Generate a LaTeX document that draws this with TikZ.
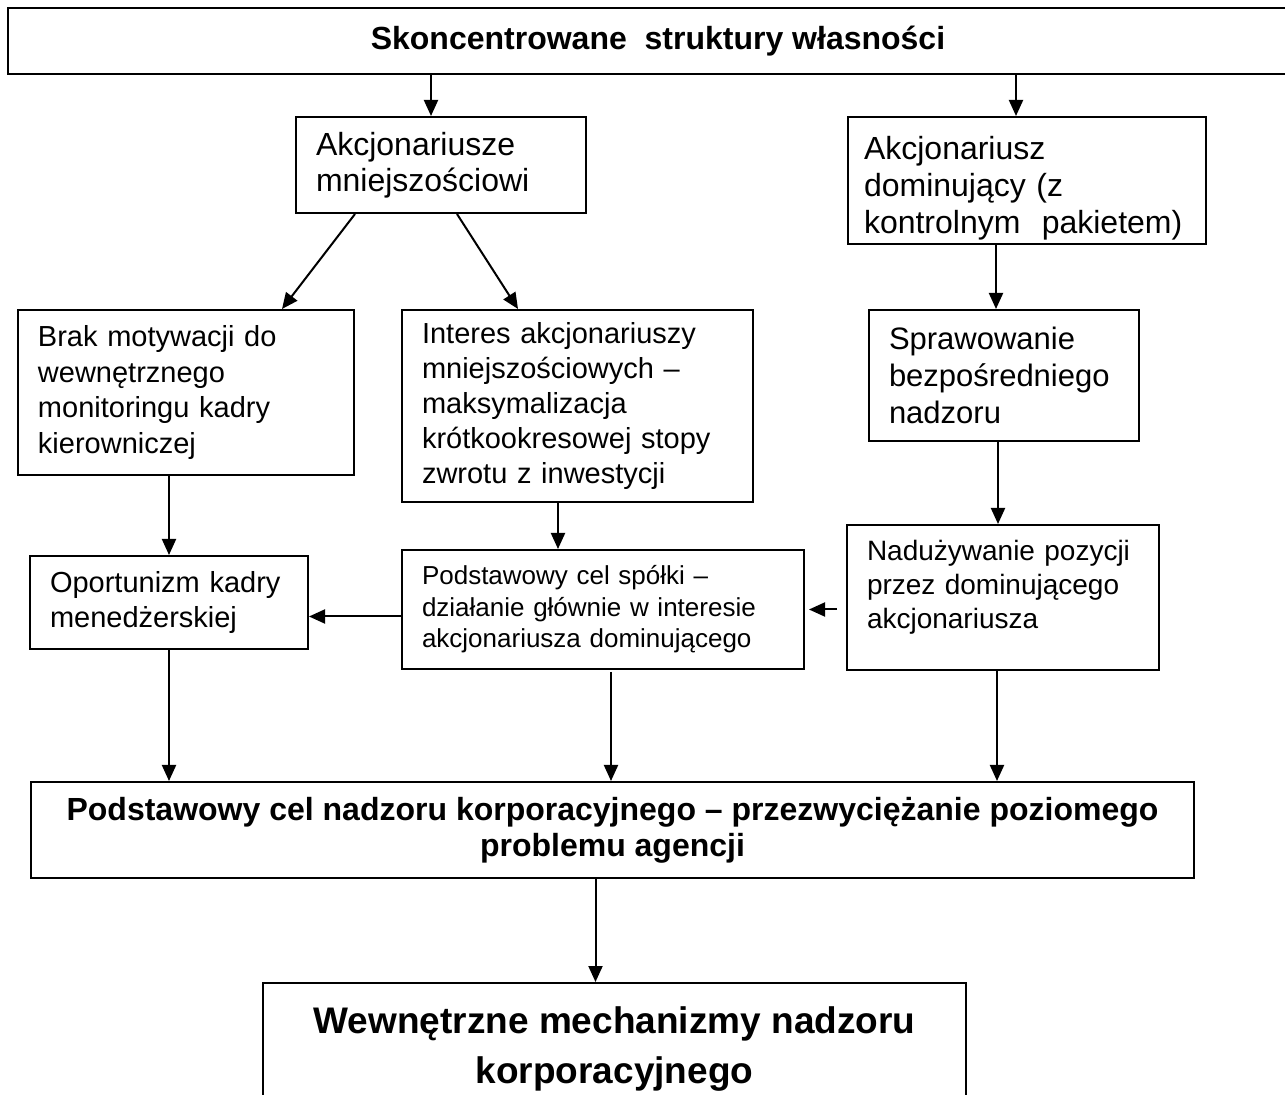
\documentclass[tikz,border=0pt]{standalone}
\usepackage{fontspec}
\setmainfont{Liberation Sans}
\usetikzlibrary{arrows.meta}
\hyphenpenalty=10000
\tikzset{
  box/.style={draw, line width=1pt, anchor=north west, align=left, inner xsep=10pt, inner ysep=0pt},
  head/.style={draw, line width=1pt, anchor=north west, align=center, inner sep=0pt},
  arr/.style={-{Triangle[length=8pt,width=7pt]}, line width=1pt},
}
\newcommand{\fs}[2]{\fontsize{#1}{#2}\selectfont}
\begin{document}
\begin{tikzpicture}[x=0.5pt,y=-0.5pt]
    \useasboundingbox (0,0) rectangle (1285,1095);
    \node[head, minimum width=650pt, minimum height=33pt, font=\bfseries\fs{16}{18}] (own) at (7,7) {Skoncentrowane\ \ struktury własności};
    \node[box, text width=125pt, minimum height=48pt, font=\fs{16}{18}] (minor) at (295,116) {Akcjonariusze\\mniejszościowi};
    \node[box, inner xsep=8pt, text width=163pt, minimum height=63.5pt, font=\fs{16}{18.5}] (dominant) at (847,116) {Akcjonariusz\\dominujący (z\\kontrolnym\ \ pakietem)\vspace{-8pt}};
    \node[box, text width=148pt, minimum height=82.5pt, font=\fs{14.5}{17.8}] (nomotiv) at (17,309) {Brak motywacji do\\wewnętrznego\\monitoringu kadry\\kierowniczej};
    \node[box, text width=155.5pt, minimum height=96pt, font=\fs{14.5}{17.6}] (interest) at (401,309) {Interes akcjonariuszy\\mniejszościowych --\\maksymalizacja\\krótkookresowej stopy\\zwrotu z inwestycji};
    \node[box, text width=115pt, minimum height=65.5pt, font=\fs{15.5}{18.7}] (direct) at (868,309) {Sprawowanie\\bezpośredniego\\nadzoru};
    \node[box, text width=136pt, minimum height=72.5pt, font=\fs{14}{17}] (abuse) at (846,524) {Nadużywanie pozycji\\przez dominującego\\akcjonariusza\vspace{10pt}};
    \node[box, text width=181pt, minimum height=59.5pt, font=\fs{13}{15.8}] (goal) at (401,549) {Podstawowy cel spółki --\\działanie głównie w interesie\\akcjonariusza dominującego};
    \node[box, text width=119pt, minimum height=46.5pt, font=\fs{14.5}{17.5}] (opport) at (29,555) {Oportunizm kadry\\menedżerskiej};
    \node[head, minimum width=581.5pt, minimum height=48pt, font=\bfseries\fs{16}{18}] (problem) at (30,781) {Podstawowy cel nadzoru korporacyjnego -- przezwyciężanie poziomego\\problemu agencji};
    \node[head, minimum width=351.5pt, minimum height=66.5pt, font=\bfseries\fs{18.5}{25}] (internal) at (262,982) {Wewnętrzne mechanizmy nadzoru\\korporacyjnego};
    \draw[arr] ([xshift=-5pt]minor.north |- own.south) -- ([xshift=-5pt]minor.north);
    \draw[arr] ([xshift=-5.5pt]dominant.north |- own.south) -- ([xshift=-5.5pt]dominant.north);
    \draw[arr] ([xshift=30pt]minor.south west) -- ([xshift=-36.5pt]nomotiv.north east);
    \draw[arr] ([xshift=81pt]minor.south west) -- ([xshift=58.5pt]interest.north west);
    \draw[arr] ([xshift=-4pt]direct.north |- dominant.south) -- ([xshift=-4pt]direct.north);
    \draw[arr] ([xshift=-3pt]direct.south) -- ([xshift=-3pt]direct.south |- abuse.north);
    \draw[arr] (opport.north |- nomotiv.south) -- (opport.north);
    \draw[arr] ([xshift=-22.5pt]goal.north |- interest.south) -- ([xshift=-22.5pt]goal.north);
    \draw[arr] ([yshift=-3.5pt]goal.west) -- ([yshift=-3.5pt]goal.west -| opport.east);
    \draw[arr, shorten <=4.5pt, shorten >=2pt] ([yshift=-6pt]abuse.west) -- ([yshift=-6pt]abuse.west -| goal.east);
    \draw[arr] (opport.south) -- (opport.south |- problem.north);
    \draw[arr, shorten <=1pt] ([xshift=4pt]goal.south) -- ([xshift=4pt]goal.south |- problem.north);
    \draw[arr] ([xshift=-3pt]abuse.south) -- ([xshift=-3pt]abuse.south |- problem.north);
    \draw[arr] ([xshift=-9.5pt]internal.north |- problem.south) -- ([xshift=-9.5pt]internal.north);
  \end{tikzpicture}
\end{document}
